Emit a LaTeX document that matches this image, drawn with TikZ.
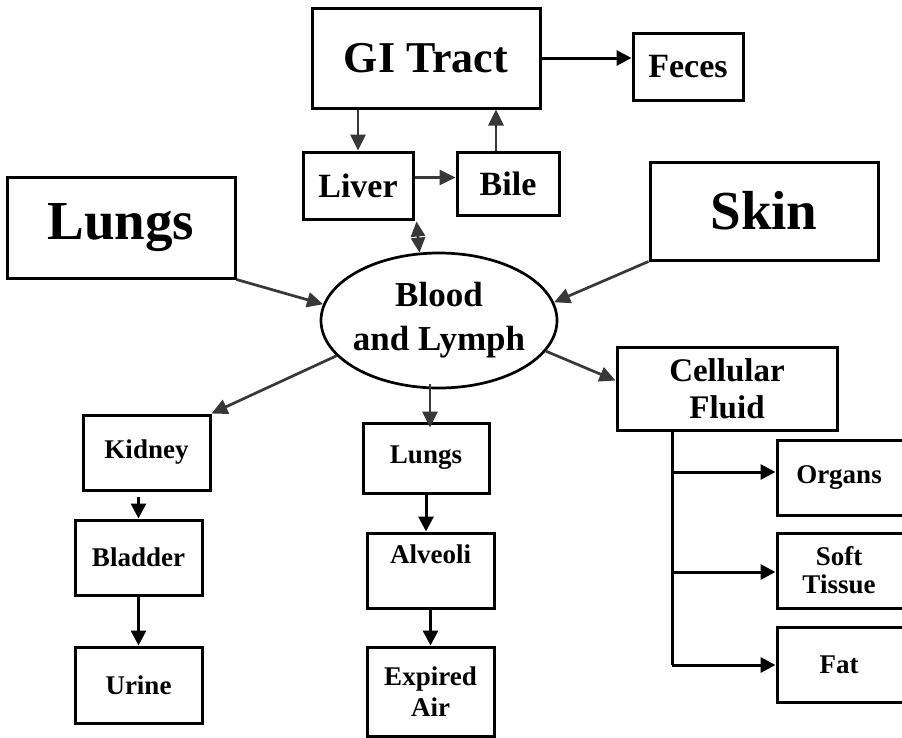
\documentclass[tikz,border=0pt]{standalone}
\usepackage{fontspec}
\setmainfont{Liberation Serif}
\usetikzlibrary{arrows.meta,shapes.geometric}
\definecolor{lnk}{HTML}{383838}
\begin{document}
\begin{tikzpicture}[x=1pt,y=-1pt,
  box/.style={draw=black, line width=3pt, rectangle, inner sep=0pt, align=center, font=\bfseries},
  huge/.style={font=\bfseries\fontsize{55}{60}\selectfont},
  big/.style={font=\bfseries\fontsize{44}{50}\selectfont},
  mid/.style={font=\bfseries\fontsize{34}{38}\selectfont},
  sml/.style={font=\bfseries\fontsize{27}{30}\selectfont},
  garrow/.style={draw=lnk, line width=2.7pt, -{Triangle[length=16pt,width=15pt]}},
  karrow/.style={draw=black, line width=3pt, -{Triangle[length=15pt,width=15pt]}},
  kline/.style={draw=black, line width=3pt}
]
\useasboundingbox (0,0) rectangle (902,737);
\fill[white] (0,0) rectangle (902,737);

% top group
\node[box, big, minimum width=228pt, minimum height=100pt] (gi) at (426,58) {GI Tract};
\node[box, mid, minimum width=110pt, minimum height=67pt] (feces) at (688,66.5) {Feces};
\node[box, mid, minimum width=110pt, minimum height=67pt] (liver) at (358,185.5) {Liver};
\node[box, mid, minimum width=102pt, minimum height=63pt] (bile) at (508,183.5) {Bile};

% sources
\node[box, huge, minimum width=228pt, minimum height=101pt] (lungsbig) at (121,227.5) {Lungs};
\node[box, huge, minimum width=228pt, minimum height=98pt] (skin) at (764,211) {Skin};

% center
\node[ellipse, draw=black, line width=2.7pt, minimum width=236pt, minimum height=135pt, inner sep=0pt,
  label={[font=\bfseries\fontsize{35}{44}\selectfont, align=center]center:Blood\\and Lymph}] (ell) at (439,320.5) {};

% right
\node[box, font=\bfseries\fontsize{33}{37}\selectfont, minimum width=220pt, minimum height=83pt] (cell) at (727,388.5) {Cellular\\Fluid};
\node[box, sml, minimum width=140pt, minimum height=75pt] (organs) at (847,477.5) {\hspace*{-16pt}Organs};
\node[box, font=\bfseries\fontsize{27}{28}\selectfont, minimum width=140pt, minimum height=75pt] (soft) at (847,570.5) {\hspace*{-16pt}Soft\\\hspace*{-16pt}Tissue};
\node[box, sml, minimum width=140pt, minimum height=75pt] (fat) at (847,664.5) {\hspace*{-16pt}Fat};

% left
\node[box, sml, minimum width=127pt, minimum height=75pt] (kidney) at (146.5,452.5) {Kidney};
\node[box, sml, minimum width=127pt, minimum height=75pt] (bladder) at (138.5,557.5) {Bladder};
\node[box, sml, minimum width=127pt, minimum height=76pt] (urine) at (138.5,685) {Urine};

% middle
\node[box, sml, minimum width=126pt, minimum height=70pt] (lungs2) at (426,458) {Lungs};
\node[box, sml, minimum width=127pt, minimum height=75pt] (alv) at (430.5,570.5) {Alveoli\\[2pt]~};
\node[box, font=\bfseries\fontsize{27}{31}\selectfont, minimum width=127pt, minimum height=89pt] (exp) at (430.5,691.5) {Expired\\Air};

% connectors top
\draw[karrow] (gi.east |- 0,58) -- (feces.west |- 0,58);
\draw[garrow] (gi.south -| liver.north) -- (liver.north);
\draw[garrow] ([xshift=-12pt]bile.north) -- ([xshift=-12pt]bile.north |- gi.south);
\draw[garrow] ([yshift=8pt]liver.east) -- ([yshift=8pt]liver.east -| bile.west);
\draw[draw=lnk, line width=2.7pt, {Triangle[length=15pt,width=14pt]}-{Triangle[length=15pt,width=14pt]}]
  ([xshift=2pt,yshift=-1pt]liver.south east) -- (ell.106);

% into blood
\draw[garrow] (lungsbig.south east) -- (ell.172);
\draw[garrow] (skin.south west) -- (ell.9);

% out of blood
\draw[garrow] (ell.-16) -- ([yshift=8pt]cell.west);
\draw[garrow] (ell.199) -- (kidney.north east);
\draw[garrow] ([xshift=4pt,yshift=5pt]lungs2.north |- ell.south) -- ([xshift=4pt,yshift=-6pt]lungs2.north);

% chains
\draw[karrow] ([yshift=-5pt]bladder.north |- kidney.south) -- (bladder.north);
\draw[karrow] (bladder.south) -- (urine.north);
\draw[karrow] (lungs2.south) -- (lungs2.south |- alv.north);
\draw[karrow] (alv.south) -- (exp.north);

% cellular branches
\coordinate (tk) at (672,665);
\coordinate (t1) at (672,472);
\coordinate (t2) at (672,572);
\draw[kline] (cell.south -| tk) -- (tk);
\draw[karrow] (t1) -- (t1 -| organs.west);
\draw[karrow] (t2) -- (t2 -| soft.west);
\draw[karrow] (tk) -- (tk -| fat.west);
\end{tikzpicture}
\end{document}
